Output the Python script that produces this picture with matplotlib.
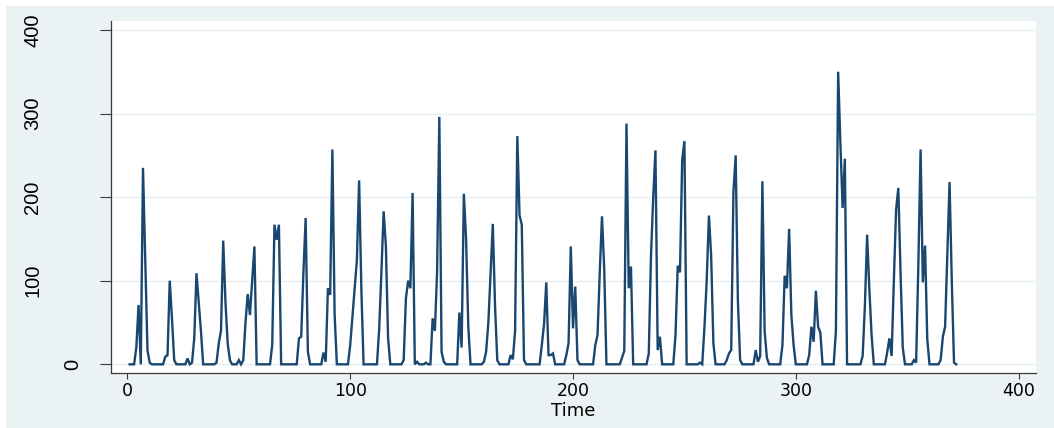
import numpy as np
import matplotlib
matplotlib.use("Agg")
import matplotlib.pyplot as plt
from matplotlib import font_manager
from matplotlib.transforms import ScaledTranslation
from matplotlib.patches import Rectangle

# ---- data ----
values = [
    0, 0, 0, 20, 71, 0, 235, 126, 17, 2,
    0, 0, 0, 0, 0, 0, 9, 11, 100, 55,
    5, 0, 0, 0, 0, 0, 7, 0, 2, 31,
    109, 75, 40, 0, 0, 0, 0, 0, 0, 2,
    25, 40, 148, 75, 25, 5, 0, 0, 0, 5,
    0, 5, 50, 84, 59, 100, 141, 0, 0, 0,
    0, 0, 0, 0, 23, 167, 149, 167, 0, 0,
    0, 0, 0, 0, 0, 0, 31, 33, 110, 175,
    15, 0, 0, 0, 0, 0, 0, 14, 3, 91,
    83, 257, 60, 0, 0, 0, 0, 0, 0, 23,
    57, 91, 125, 220, 90, 0, 0, 0, 0, 0,
    0, 0, 42, 110, 183, 142, 31, 0, 0, 0,
    0, 0, 0, 5, 79, 100, 91, 205, 0, 3,
    0, 0, 0, 2, 0, 0, 55, 40, 111, 296,
    15, 3, 0, 0, 0, 0, 0, 0, 62, 20,
    204, 150, 45, 0, 0, 0, 0, 0, 0, 3,
    15, 50, 110, 168, 70, 5, 0, 0, 0, 0,
    0, 11, 6, 40, 273, 178, 167, 5, 0, 0,
    0, 0, 0, 0, 0, 23, 48, 98, 11, 11,
    13, 0, 0, 0, 0, 0, 11, 25, 141, 43,
    93, 5, 0, 0, 0, 0, 0, 0, 0, 23,
    35, 110, 177, 115, 0, 0, 0, 0, 0, 0,
    0, 8, 16, 288, 91, 117, 0, 0, 0, 0,
    0, 0, 0, 13, 130, 200, 256, 17, 33, 0,
    0, 0, 0, 0, 0, 35, 118, 110, 244, 267,
    0, 0, 0, 0, 0, 0, 2, 0, 45, 100,
    178, 130, 25, 0, 0, 0, 0, 0, 5, 13,
    17, 206, 250, 76, 5, 0, 0, 0, 0, 0,
    0, 17, 3, 10, 219, 40, 8, 0, 0, 0,
    0, 0, 0, 23, 106, 91, 162, 59, 23, 0,
    0, 0, 0, 0, 0, 11, 45, 27, 88, 45,
    38, 0, 0, 0, 0, 0, 0, 40, 350, 265,
    187, 246, 0, 0, 0, 0, 0, 0, 0, 10,
    70, 155, 90, 35, 0, 0, 0, 0, 0, 0,
    14, 31, 10, 100, 185, 211, 110, 20, 0, 0,
    0, 0, 5, 2, 120, 257, 98, 142, 30, 0,
    0, 0, 0, 0, 5, 33, 45, 130, 218, 100,
    2, 0,
]
time = list(range(1, len(values) + 1))
x_ticks = [0, 100, 200, 300, 400]
x_tick_labels = ["0", "100", "200", "300", "400"]
y_ticks = [0, 100, 200, 300, 400]
y_tick_labels = ["0", "100", "200", "300", "400"]
x_title = "Time"

# ---- fonts ----
available = {f.name for f in font_manager.fontManager.ttflist}
if "Liberation Sans Narrow" in available:
    yfont = "Liberation Sans Narrow"
elif "Liberation Sans" in available:
    yfont = "Liberation Sans"
else:
    yfont = "DejaVu Sans"
plt.rcParams["font.family"] = ["DejaVu Sans"]

W, H = 1054, 428
fig = plt.figure(figsize=(W / 100, H / 100), dpi=100, facecolor="white")

# outer graph region (light bluish gray)
bg = "#EAF2F3"
fig.patches.append(Rectangle((6 / W, 0), 1 - 6 / W, 1 - 6 / H,
                             transform=fig.transFigure, facecolor=bg,
                             edgecolor="none", zorder=-10))

left, right = 110.7 / W, 1036 / W
bottom, top = 1 - 373 / H, 1 - 21 / H
ax = fig.add_axes([left, bottom, right - left, top - bottom])
ax.set_facecolor("white")

navy = "#1A476F"
ax.plot(time, values, color=navy, lw=1.7, solid_joinstyle="miter", zorder=3)

ax.set_xlim(-7.5, 407.8)
ax.set_ylim(-10.4, 410.7)

for s in ["top", "right"]:
    ax.spines[s].set_visible(False)
for s in ["left", "bottom"]:
    ax.spines[s].set_color("#3a3a3a")
    ax.spines[s].set_linewidth(0.9)

ax.set_yticks(y_ticks)
ax.set_yticklabels(y_tick_labels, rotation=90, va="center",
                   family=[yfont, "DejaVu Sans"], fontsize=14.5)
ax.set_xticks(x_ticks)
ax.set_xticklabels(x_tick_labels, fontsize=12.5)
ax.tick_params(axis="y", length=7.7, width=0.8, color="#3a3a3a", pad=41.5,
               labelcolor="black")
ax.tick_params(axis="x", length=4.3, width=0.8, color="#3a3a3a", pad=2.5,
               labelcolor="black")
ax.grid(axis="y", color="#E6EEF0", lw=1.0, zorder=0)
ax.set_axisbelow(True)

# "0" label sits closer to the axis in the reference
t0 = ax.yaxis.get_major_ticks()[0]
t0.label1.set_transform(t0.label1.get_transform() +
                        ScaledTranslation(0.40, 0, fig.dpi_scale_trans))

ax.set_xlabel(x_title, fontsize=13)
ax.xaxis.set_label_coords(0.5, -0.083)

fig.savefig("out.png", dpi=100, facecolor="white")
